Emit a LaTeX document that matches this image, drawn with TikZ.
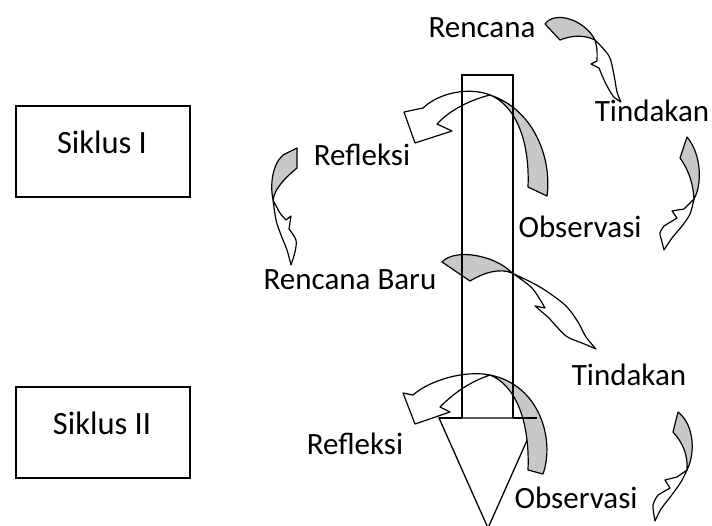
\documentclass[tikz,border=0pt]{standalone}
\usepackage{fontspec}
\setmainfont{Carlito}
\definecolor{bandgray}{RGB}{200,200,200}
\begin{document}
\begin{tikzpicture}[x=1pt,y=-1pt,
  lbl/.style={font=\fontsize{31}{36}\selectfont, inner sep=0pt, anchor=center},
  slbl/.style={font=\fontsize{32.5}{38}\selectfont, inner sep=0pt, anchor=center},
  sbox/.style={draw, line width=1.6pt, minimum width=174pt, minimum height=91pt, inner sep=0pt},
  frame/.style={draw, line width=1.3pt},
  grayband/.style={fill=bandgray, draw=black, line width=1.2pt, line join=round},
  whitehead/.style={fill=white, draw=black, line width=1.2pt, line join=round}]
\useasboundingbox (0,0) rectangle (712,526);

% Siklus boxes
\node[sbox] (b1) at (103,151.5) {};
\node[slbl] (s1) at (102,142) {Siklus I};
\node[sbox] (b2) at (103,432.5) {};
\node[slbl] (s2) at (102,423) {Siklus II};

% cone below the bar
\draw[frame] (439,418) -- (488,528) -- (537,418) -- cycle;

% A1 Rencana -> Tindakan
\path[grayband] (545,24) .. controls (555,10) and (585,20) .. (595,40)
   .. controls (583,34) and (570,36) .. (560,40) -- cycle;
\path[whitehead] plot[smooth] coordinates {(595,40) (597,50) (597,61)} -- (591,64)
   -- plot[smooth] coordinates {(599,68) (605,82) (613,96) (621,102)}
   -- plot[smooth] coordinates {(621,102) (617,92) (614,75) (609,56) (595,40)} -- cycle;

% A2 Tindakan -> Observasi (top)
\path[grayband] (687,137) -- (680,158) .. controls (690,172) and (693,185) .. (694,199)
   .. controls (702,185) and (702,155) .. (687,137) -- cycle;
\path[whitehead] (694,199) -- (684,209) -- (672,211) -- (677,218)
   -- plot[smooth] coordinates {(664,226) (660,233) (662,242) (664,250)}
   -- plot[smooth] coordinates {(664,250) (672,238) (682,226) (690,214) (694,199)} -- cycle;

% A3 big top arrow
\path[grayband] (528,187) -- (547,196) .. controls (552,160) and (535,110) .. (490,95)
   .. controls (515,105) and (530,140) .. (528,187) -- cycle;
\path[whitehead] (490,95) .. controls (470,87) and (440,92) .. (423,108)
   -- (404,112) -- (415,143) -- (452,131) -- (437,124)
   .. controls (450,110) and (470,100) .. (490,95) -- cycle;

% A4 Refleksi -> Rencana Baru
\path[grayband] (283,155) -- (297,148) -- (297,168) .. controls (285,178) and (275,188) .. (273,200)
   .. controls (270,185) and (272,165) .. (283,155) -- cycle;
\path[whitehead] plot[smooth] coordinates {(273,200) (280,213) (286,220)} -- (291,216) -- (289,229)
   -- plot[smooth] coordinates {(289,229) (296,240) (295,252) (291,265)}
   -- plot[smooth] coordinates {(291,265) (287,250) (281,235) (276,220) (273,200)} -- cycle;

% A5 Rencana Baru -> Tindakan
\path[grayband] (442,262) .. controls (455,248) and (495,255) .. (512,273)
   .. controls (500,268) and (485,272) .. (470,281) -- cycle;
\path[whitehead] plot[smooth] coordinates {(512,273) (532,288) (545,308)} -- (535,306)
   -- plot[smooth] coordinates {(549,318) (566,336) (582,343) (596,349)}
   -- plot[smooth] coordinates {(596,349) (586,337) (578,322) (565,305) (540,287) (512,273)} -- cycle;

% A6 big bottom arrow
\path[grayband] (528,470) -- (543,474) .. controls (555,440) and (540,385) .. (490,375)
   .. controls (515,385) and (530,420) .. (528,470) -- cycle;
\path[whitehead] (490,375) .. controls (465,370) and (430,380) .. (413,395)
   -- (403,393) -- (415,424) -- (450,412) -- (440,407)
   .. controls (455,392) and (470,382) .. (490,375) -- cycle;

% A7 Tindakan -> Observasi (bottom)
\path[grayband] (678,412) -- (673,432) .. controls (683,443) and (688,455) .. (687,470)
   .. controls (695,455) and (695,425) .. (678,412) -- cycle;
\path[whitehead] (687,470) -- (677,477) -- (665,480) -- (670,488)
   -- plot[smooth] coordinates {(658,495) (653,505) (655,521)}
   -- plot[smooth] coordinates {(655,521) (661,509) (671,496) (681,482) (687,470)} -- cycle;

% vertical bar
\draw[frame] (462,418) -- (462,75) -- (513,75) -- (513,418);
\draw[frame] (439,418) -- (462,418);
\draw[frame] (513,418) -- (537,418);

% labels
\node[lbl] (r1) at (482,28) {Rencana};
\node[lbl] (t1) at (652,111) {Tindakan};
\node[lbl] (f1) at (362,155) {Refleksi};
\node[lbl] (o1) at (580,227) {Observasi};
\node[lbl] (rb) at (350,280) {Rencana Baru};
\node[lbl] (t2) at (629,375) {Tindakan};
\node[lbl] (f2) at (355,444) {Refleksi};
\node[lbl] (o2) at (576,498) {Observasi};
\end{tikzpicture}
\end{document}
